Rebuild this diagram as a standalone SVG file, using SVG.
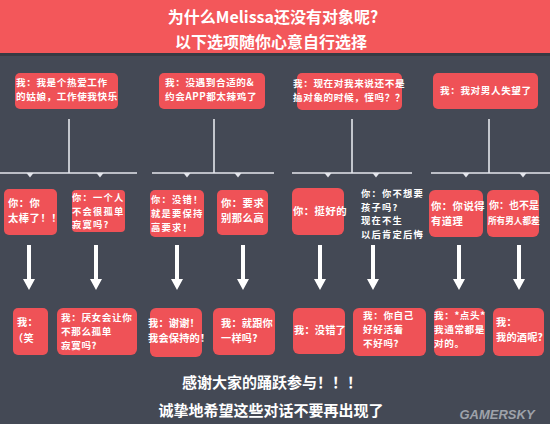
<svg xmlns="http://www.w3.org/2000/svg" width="550" height="424" viewBox="0 0 550 424">
<style>
.box{fill:#ef5257;}
.t{font-family:"Noto Sans CJK SC","Noto Sans",sans-serif;font-weight:bold;fill:#ffffff;}
.s{font-size:9.6px;letter-spacing:0.6px;}
.s2{font-size:10.2px;letter-spacing:0.2px;}
.m{font-size:10.3px;letter-spacing:0.5px;}
.m3{font-size:9.3px;letter-spacing:1.2px;}
.title{font-size:16px;text-anchor:middle;}
.foot{font-size:15px;text-anchor:middle;}
.ln{stroke:#e4e6ec;stroke-width:1.6;fill:none;}
.tri{fill:#e4e6ec;}
.arr{fill:#ffffff;}
</style>
<defs>
<path id="arrow" d="M-2,0 H2 V34 H6 L0,45 L-6,34 H-2 Z"/>
<path id="tri" d="M-3.5,0 H3.5 L0,4.5 Z"/>
</defs>
<rect x="0" y="0" width="550" height="424" fill="#444955"/>
<rect x="0" y="0" width="550" height="53" fill="#f3575a"/>
<rect x="0" y="53" width="550" height="3" fill="#363a43"/>
<g id="title">
<text class="t title" x="273" y="23">为什么Melissa还没有对象呢?</text>
<text class="t title" x="271" y="48">以下选项随你心意自行选择</text>
</g>
<g id="connectors">
<line class="ln" x1="69" y1="119" x2="69" y2="173"/>
<line class="ln" x1="0" y1="173" x2="137" y2="173"/>
<line class="ln" x1="214" y1="119" x2="214" y2="173"/>
<line class="ln" x1="152" y1="173" x2="274" y2="173"/>
<line class="ln" x1="352" y1="119" x2="352" y2="173"/>
<line class="ln" x1="292" y1="173" x2="412" y2="173"/>
<line class="ln" x1="489" y1="119" x2="489" y2="173"/>
<line class="ln" x1="431" y1="173" x2="550" y2="173"/>
<use href="#tri" class="tri" x="30" y="173"/>
<use href="#tri" class="tri" x="100" y="173"/>
<use href="#tri" class="tri" x="187" y="173"/>
<use href="#tri" class="tri" x="238" y="173"/>
<use href="#tri" class="tri" x="328" y="173"/>
<use href="#tri" class="tri" x="376" y="173"/>
<use href="#tri" class="tri" x="466" y="173"/>
<use href="#tri" class="tri" x="523" y="173"/>
<use href="#arrow" class="arr" x="29" y="245"/>
<use href="#arrow" class="arr" x="96" y="245"/>
<use href="#arrow" class="arr" x="177" y="245"/>
<use href="#arrow" class="arr" x="243" y="245"/>
<use href="#arrow" class="arr" x="320" y="245"/>
<use href="#arrow" class="arr" x="373" y="245"/>
<use href="#arrow" class="arr" x="459" y="245"/>
<use href="#arrow" class="arr" x="519" y="245"/>
</g>
<g id="q1">
<rect class="box" x="15" y="73" width="103" height="36" rx="5"/>
<text class="t s" x="16" y="86">我：我是个热爱工作<tspan x="16" dy="14">的姑娘，工作使我快乐</tspan></text>
</g>
<g id="q2">
<rect class="box" x="159" y="73" width="106" height="36" rx="5"/>
<text class="t s" x="165" y="86">我：没遇到合适的&amp;<tspan x="165" dy="14">约会APP都太辣鸡了</tspan></text>
</g>
<g id="q3">
<rect class="box" x="297" y="73" width="105" height="37" rx="5"/>
<text class="t s" x="293" y="87">我：现在对我来说还不是<tspan x="293" dy="14">搞对象的时候，懂吗？？</tspan></text>
</g>
<g id="q4">
<rect class="box" x="433" y="73" width="105" height="36" rx="5"/>
<text class="t s" x="440" y="94">我：我对男人失望了</text>
</g>
<g id="r1">
<rect class="box" x="4" y="189" width="53" height="46" rx="5"/>
<text class="t m" x="8" y="207">你：你<tspan x="8" dy="15">太棒了！！</tspan></text>
</g>
<g id="r2">
<rect class="box" x="72" y="190" width="53" height="42" rx="4"/>
<text class="t m3" x="72" y="201">你：一个人<tspan x="72" dy="13.6">不会很孤单</tspan><tspan x="72" dy="13.6">寂寞吗?</tspan></text>
</g>
<g id="r3">
<rect class="box" x="150" y="190" width="54" height="47" rx="5"/>
<text class="t m3" x="151" y="203">你：没错！<tspan x="151" dy="14">就是要保持</tspan><tspan x="151" dy="14">高要求！</tspan></text>
</g>
<g id="r4">
<rect class="box" x="217" y="190" width="51" height="45" rx="5"/>
<text class="t m" x="221" y="207">你：要求<tspan x="221" dy="15">别那么高</tspan></text>
</g>
<g id="r5">
<rect class="box" x="292" y="188" width="52" height="47" rx="6"/>
<text class="t m" x="293" y="215">你：挺好的</text>
</g>
<g id="r6">
<text class="t m3" x="361" y="197">你：你不想要<tspan x="361" dy="13.6">孩子吗?</tspan><tspan x="361" dy="13.6">现在不生</tspan><tspan x="361" dy="13.6">以后肯定后悔</tspan></text>
</g>
<g id="r7">
<rect class="box" x="429" y="190" width="54" height="47" rx="6"/>
<text class="t m" x="431" y="210">你：你说得<tspan x="431" dy="15">有道理</tspan></text>
</g>
<g id="r8">
<rect class="box" x="487" y="190" width="52" height="47" rx="6"/>
<text class="t" x="489" y="209" font-size="10">你：也不是<tspan x="488" dy="15" font-size="8.6">所有男人都差</tspan></text>
</g>
<g id="a1">
<rect class="box" x="13" y="308" width="35" height="47" rx="5"/>
<text class="t s2" x="17" y="326">我：<tspan x="13" dy="16">（笑</tspan></text>
</g>
<g id="a2">
<rect class="box" x="57" y="308" width="80" height="47" rx="6"/>
<text class="t s" x="61" y="321">我：厌女会让你<tspan x="61" dy="14">不那么孤单</tspan><tspan x="61" dy="14">寂寞吗?</tspan></text>
</g>
<g id="a3">
<rect class="box" x="150" y="308" width="52" height="49" rx="6"/>
<text class="t s2" x="148" y="327">我：谢谢！<tspan x="148" dy="15">我会保持的！</tspan></text>
</g>
<g id="a4">
<rect class="box" x="213" y="308" width="62" height="47" rx="6"/>
<text class="t s2" x="221" y="327">我：就跟你<tspan x="221" dy="15">一样吗?</tspan></text>
</g>
<g id="a5">
<rect class="box" x="293" y="308" width="52" height="46" rx="6"/>
<text class="t s2" x="294" y="334">我：没错了</text>
</g>
<g id="a6">
<rect class="box" x="353" y="308" width="73" height="48" rx="6"/>
<text class="t s" x="363" y="319">我：你自己<tspan x="363" dy="14">好好活着</tspan><tspan x="363" dy="14">不好吗?</tspan></text>
</g>
<g id="a7">
<rect class="box" x="434" y="308" width="51" height="48" rx="6"/>
<text class="t s" x="434" y="319" letter-spacing="0.3">我：*点头*<tspan x="434" dy="14">我通常都是</tspan><tspan x="434" dy="14">对的。</tspan></text>
</g>
<g id="a8">
<rect class="box" x="493" y="308" width="51" height="48" rx="6"/>
<text class="t s2" x="496" y="326">我：<tspan x="496" dy="15">我的酒呢?</tspan></text>
</g>
<g id="footer">
<text class="t foot" x="272" y="388">感谢大家的踊跃参与！！！</text>
<text class="t foot" x="271" y="416">诚挚地希望这些对话不要再出现了</text>
<text x="497" y="419" font-family="'Liberation Sans',sans-serif" font-size="13" font-weight="bold" font-style="italic" fill="#9ea2aa" text-anchor="middle">GAMERSKY</text>
</g>
</svg>
